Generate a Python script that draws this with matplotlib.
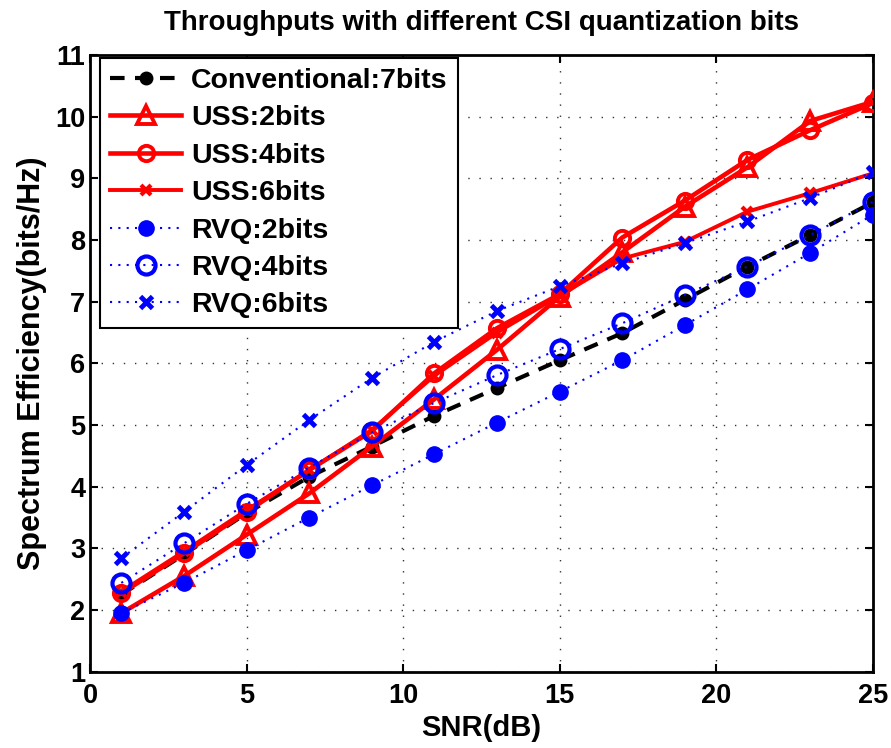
import numpy as np
import matplotlib
matplotlib.use('Agg')
import matplotlib.pyplot as plt

plt.rcParams['font.family'] = ['Liberation Sans', 'DejaVu Sans']
plt.rcParams['font.weight'] = 'bold'

snr = [1, 3, 5, 7, 9, 11, 13, 15, 17, 19, 21, 23, 25]

conv7 = [2.25, 2.9, 3.57, 4.16, 4.65, 5.15, 5.6, 6.05, 6.49, 7.03, 7.57, 8.08, 8.61]
uss2 = [1.95, 2.55, 3.22, 3.89, 4.65, 5.42, 6.22, 7.08, 7.8, 8.54, 9.18, 9.93, 10.24]
uss4 = [2.27, 2.92, 3.59, 4.27, 4.9, 5.84, 6.57, 7.12, 8.04, 8.64, 9.3, 9.78, 10.22]
uss6 = [2.3, 2.95, 3.62, 4.27, 4.92, 5.8, 6.5, 7.1, 7.7, 7.97, 8.46, 8.76, 9.08]
rvq2 = [1.95, 2.44, 2.97, 3.5, 4.02, 4.53, 5.04, 5.54, 6.05, 6.62, 7.2, 7.79, 8.41]
rvq4 = [2.44, 3.08, 3.72, 4.31, 4.88, 5.36, 5.81, 6.23, 6.65, 7.11, 7.57, 8.08, 8.62]
rvq6 = [2.84, 3.59, 4.35, 5.08, 5.76, 6.35, 6.85, 7.25, 7.62, 7.95, 8.3, 8.68, 9.1]

fig = plt.figure(figsize=(8.91, 7.48), dpi=100)
ax = fig.add_axes([0.101, 0.102, 0.8785, 0.8245])

ax.plot(snr, conv7, '--', color='k', lw=3, marker='o', ms=9, dashes=(3.5, 2.5),
        label='Conventional:7bits', zorder=3)
ax.plot(snr, uss2, '-', color='red', lw=3.3, marker='^', ms=13, mfc='none', mew=2.8,
        label='USS:2bits', zorder=4)
ax.plot(snr, uss4, '-', color='red', lw=3.3, marker='o', ms=11, mfc='none', mew=2.8,
        label='USS:4bits', zorder=4)
ax.plot(snr, uss6, '-', color='red', lw=2.8, marker='x', ms=7, mew=3,
        label='USS:6bits', zorder=4)
ax.plot(snr, rvq2, ':', color='blue', lw=1.5, marker='o', ms=11, mec='blue',
        dashes=(1, 3), label='RVQ:2bits', zorder=5)
ax.plot(snr, rvq4, ':', color='blue', lw=1.5, marker='o', ms=13, mfc='none', mew=3,
        dashes=(1, 3), label='RVQ:4bits', zorder=5)
ax.plot(snr, rvq6, ':', color='blue', lw=1.5, marker='x', ms=8, mew=3.5,
        dashes=(1, 3), label='RVQ:6bits', zorder=5)

ax.set_xlim(0, 25)
ax.set_ylim(1, 11)
ax.set_xticks(np.arange(0, 26, 5))
ax.set_yticks(np.arange(1, 12, 1))
ax.grid(True, linestyle=(0, (1, 7)), color='#333333', lw=1)
ax.tick_params(direction='in', top=True, right=True, labelsize=19.5, width=1.5, length=6)
ax.tick_params(axis='x', pad=8)
for s in ax.spines.values():
    s.set_linewidth(2)

ax.set_title('Throughputs with different CSI quantization bits', fontsize=20,
             fontweight='bold', pad=18)
ax.set_xlabel('SNR(dB)', fontsize=21, fontweight='bold', labelpad=4)
ax.set_ylabel('Spectrum Efficiency(bits/Hz)', fontsize=22, fontweight='bold', labelpad=6)

leg = ax.legend(loc='upper left', bbox_to_anchor=(0.0128, 0.995), borderaxespad=0,
                fontsize=20.5, frameon=True, fancybox=False, framealpha=1,
                edgecolor='k', handlelength=2.5, handletextpad=0.35,
                labelspacing=0.4, borderpad=0.35)
leg.get_frame().set_linewidth(1.5)

fig.savefig('out.png', dpi=100)
